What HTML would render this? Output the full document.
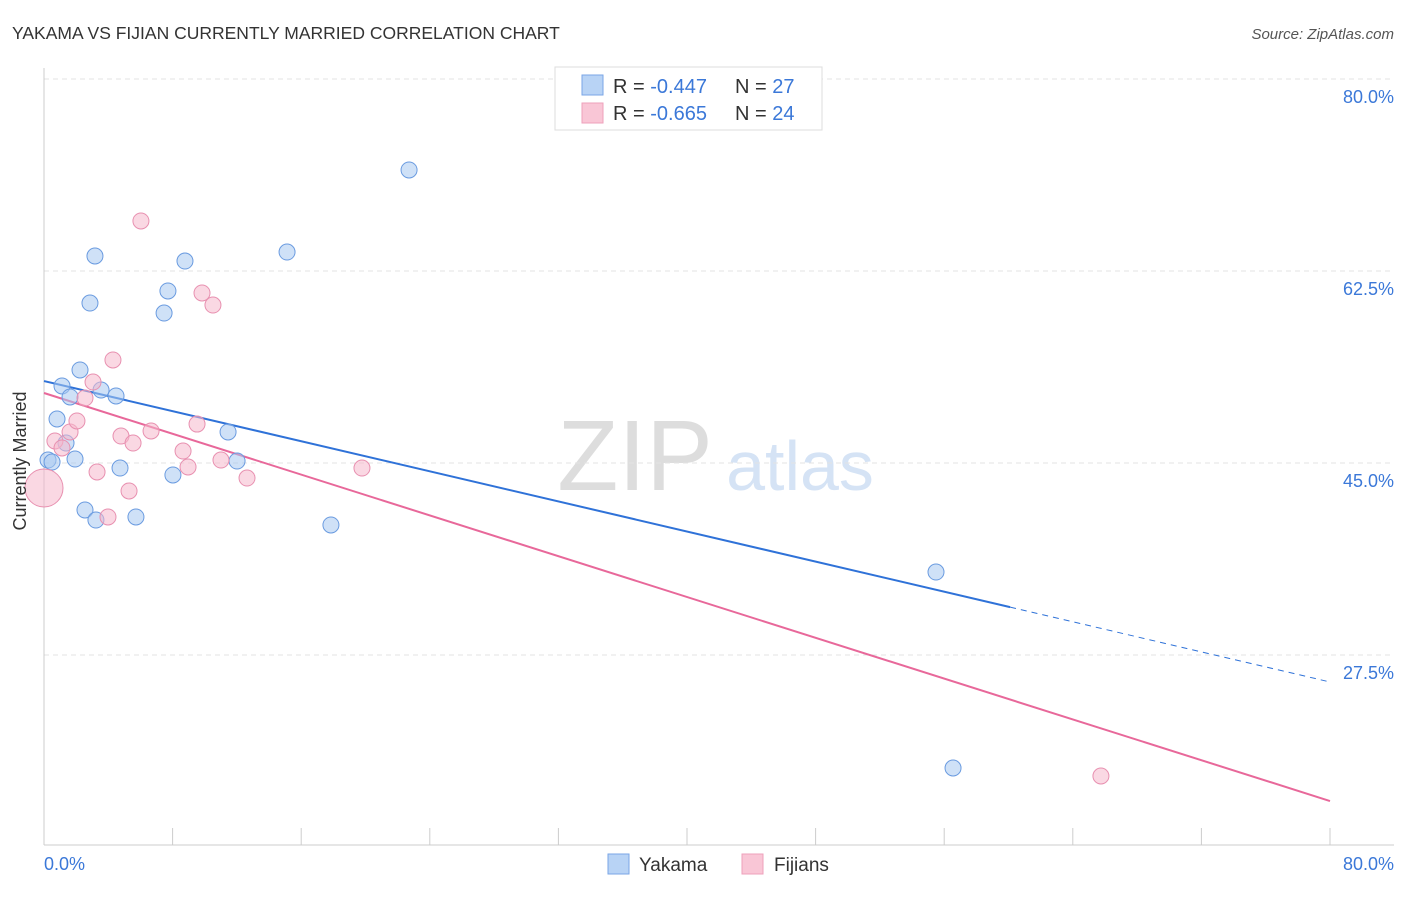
<!DOCTYPE html>
<html><head><meta charset="utf-8">
<style>
body{margin:0;background:#fff;font-family:"Liberation Sans",sans-serif;}
svg text{font-family:"Liberation Sans",sans-serif;}
</style></head>
<body>
<svg id="chart" width="1406" height="892">
<text x="12" y="39" font-size="17.5" fill="#333">YAKAMA VS FIJIAN CURRENTLY MARRIED CORRELATION CHART</text>
<text x="1394" y="39" font-size="15" fill="#555" font-style="italic" text-anchor="end">Source: ZipAtlas.com</text>
<g>
<text x="635" y="490" font-size="100" fill="#ddd" font-family="Liberation Serif" text-anchor="middle">ZIP</text>
<text x="800" y="490" font-size="70" fill="#d5e3f5" text-anchor="middle">atlas</text>
</g>
<g id="grid"></g>
<g id="axes"></g>
<g id="lines"></g>
<g id="points"></g>
<text x="20" y="455" font-size="18" fill="#333" text-anchor="middle" transform="rotate(-90 26 455)">Currently Married</text>
<text x="44" y="870" font-size="18" fill="#3b78d8">0.0%</text>
<text x="1394" y="870" font-size="18" fill="#3b78d8" text-anchor="end">80.0%</text>
<g>
<rect x="555" y="67" width="267" height="63" fill="#fff" stroke="#ddd"/>
<rect x="582" y="75" width="21" height="20" fill="#b8d3f5" stroke="#7aa6e6"/>
<rect x="582" y="103" width="21" height="20" fill="#f9c6d6" stroke="#eea0bb"/>
<text x="613" y="93" font-size="20" fill="#333">R = <tspan fill="#3b78d8">-0.447</tspan></text>
<text x="735" y="93" font-size="20" fill="#333">N = <tspan fill="#3b78d8">27</tspan></text>
<text x="613" y="120" font-size="20" fill="#333">R = <tspan fill="#3b78d8">-0.665</tspan></text>
<text x="735" y="120" font-size="20" fill="#333">N = <tspan fill="#3b78d8">24</tspan></text>
</g>
<g>
<rect x="608" y="854" width="21" height="20" fill="#b8d3f5" stroke="#7aa6e6"/>
<text x="639" y="871" font-size="19" fill="#333">Yakama</text>
<rect x="742" y="854" width="21" height="20" fill="#f9c6d6" stroke="#eea0bb"/>
<text x="774" y="871" font-size="19" fill="#333">Fijians</text>
</g>
</svg>
<script>
const yTicks=[80,62.5,45,27.5];
const yTickLabels=["80.0%","62.5%","45.0%","27.5%"];
const xTicks=[0,8,16,24,32,40,48,56,64,72,80];
const yakamaX=[0.25,0.5,0.81,1.12,1.37,1.62,1.93,2.24,2.55,2.86,3.17,3.23,3.55,4.48,4.73,5.72,7.47,7.71,8.02,8.77,11.45,12.01,15.12,17.85,22.71,55.49,56.55];
const yakamaY=[45.27,45.09,49.01,52.02,46.82,51.02,45.36,53.48,40.72,59.58,63.87,39.8,51.65,51.11,44.54,40.08,58.67,60.68,43.91,63.41,47.83,45.18,64.23,39.35,71.71,35.06,17.2];
const fijiX=[0,0.68,1.12,1.62,2.05,2.55,3.05,3.3,3.98,4.29,4.79,5.29,5.54,6.03,6.66,8.65,8.96,9.52,9.83,10.51,11.01,12.63,19.78,65.75];
const fijiY=[42.72,47.01,46.37,47.83,48.83,50.92,52.38,44.18,40.08,54.39,47.46,42.45,46.82,67.06,47.92,46.09,44.64,48.55,60.5,59.4,45.27,43.63,44.54,16.47];
const yakamaTrend=[52.47,25.04];
const fijiTrend=[51.38,14.19];
const NS="http://www.w3.org/2000/svg";
const X=v=>44+v*16.075;
const Y=v=>463-(v-45)*10.971;
function mk(tag,attrs,parent){const e=document.createElementNS(NS,tag);for(const k in attrs)e.setAttribute(k,attrs[k]);document.getElementById(parent).appendChild(e);return e;}
yTicks.forEach((t,i)=>{
 const l=mk('line',{x1:44,x2:1394,y1:Y(t),y2:Y(t),stroke:'#e3e3e3','stroke-dasharray':'5,4'},'grid');
 
 
 const tx=mk('text',{x:1394,y:Y(t)+24,'font-size':18,fill:'#3b78d8','text-anchor':'end'},'grid');
 tx.textContent=yTickLabels[i];
 
 
});
const ax=mk('line',{x1:44,x2:44,y1:68,y2:845,stroke:'#ccc'},'axes');


const bx=mk('line',{x1:44,x2:1394,y1:845,y2:845,stroke:'#ccc'},'axes');


xTicks.forEach(t=>{
 const l=mk('line',{x1:X(t),x2:X(t),y1:828,y2:845,stroke:'#ccc'},'axes');
 
 
});
function trend(tr,col,name,dashFrom){
 const f=x=>tr[0]+(tr[1]-tr[0])*x/80;
 const end=dashFrom||80;
 const l=mk('line',{x1:X(0),y1:Y(f(0)),x2:X(end),y2:Y(f(end)),stroke:col,'stroke-width':2},'lines');
 
 
 if(dashFrom){
  const d=mk('line',{x1:X(end),y1:Y(f(end)),x2:X(80),y2:Y(f(80)),stroke:col,'stroke-width':1,'stroke-dasharray':'6,5'},'lines');
  
  
 }
}
trend(yakamaTrend,'#2f72d8','yakama-trend-line',60.1);
trend(fijiTrend,'#e8689a','fijians-trend-line',null);
yakamaX.forEach((x,i)=>{
 const c=mk('circle',{cx:X(x),cy:Y(yakamaY[i]),r:8,fill:'rgba(168,200,240,0.55)',stroke:'#6a9be0','stroke-width':1},'points');
 
 
});
fijiX.forEach((x,i)=>{
 const c=mk('circle',{cx:X(x),cy:Y(fijiY[i]),r:i===0?19:8,fill:'rgba(245,184,204,0.55)',stroke:'#e890b0','stroke-width':1},'points');
 
 
});
</script>
</body></html>
